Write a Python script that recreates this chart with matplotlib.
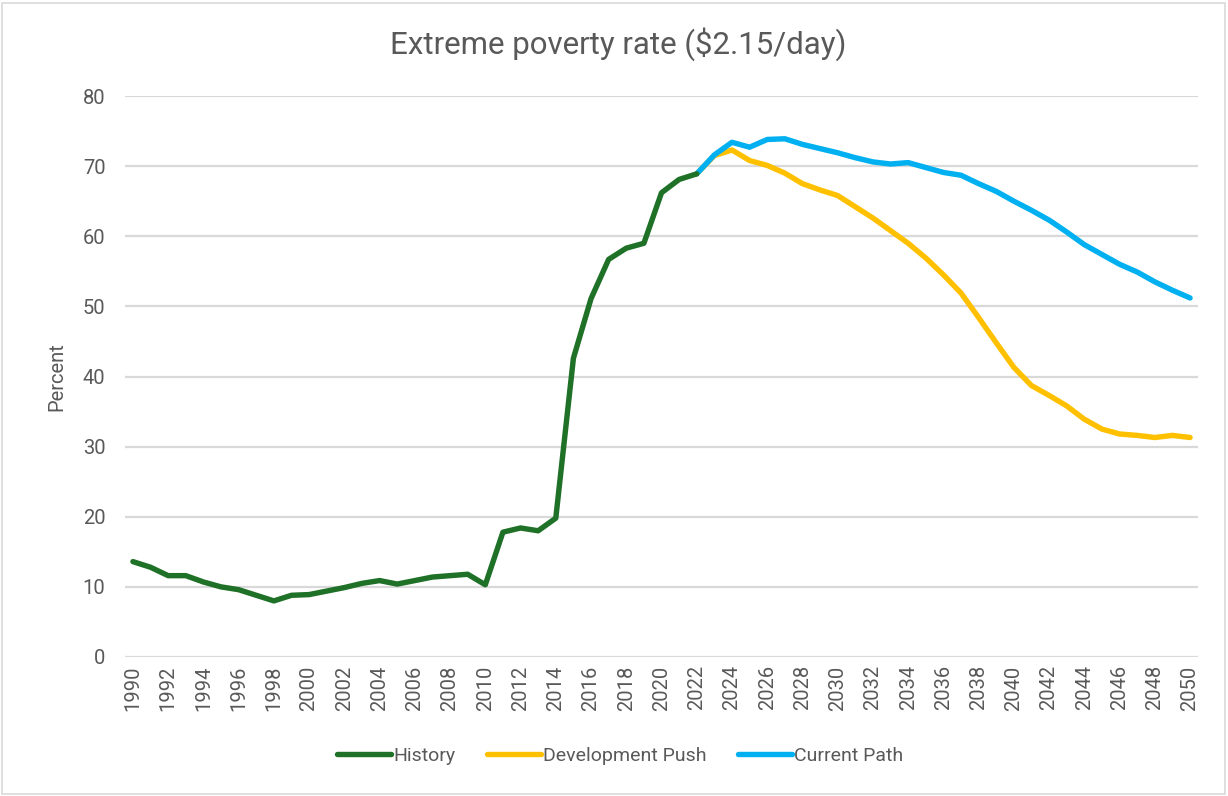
import matplotlib
matplotlib.use("Agg")
import matplotlib.pyplot as plt
from matplotlib.patches import Rectangle

plt.rcParams['font.family'] = ['Roboto', 'DejaVu Sans']

hist_years = list(range(1990, 2023))
history = [13.6, 12.8, 11.6, 11.6, 10.7, 10.0, 9.6, 8.8, 8.0, 8.8, 8.9,
           9.4, 9.9, 10.5, 10.9, 10.4, 10.9, 11.4, 11.6, 11.8, 10.3,
           17.8, 18.4, 18.0, 19.8, 42.6, 51.1, 56.7, 58.3, 59.0, 66.2,
           68.1, 68.9]

proj_years = list(range(2022, 2051))
dev_push = [68.9, 71.5, 72.3, 70.8, 70.1, 69.0, 67.5, 66.6, 65.8, 64.2,
            62.6, 60.8, 59.0, 56.9, 54.5, 51.9, 48.4, 44.8, 41.3, 38.7,
            37.3, 35.8, 33.9, 32.5, 31.8, 31.6, 31.3, 31.6, 31.3]
current_path = [68.9, 71.6, 73.4, 72.7, 73.8, 73.9, 73.1, 72.5, 71.9, 71.2,
                70.6, 70.3, 70.5, 69.8, 69.1, 68.7, 67.5, 66.4, 65.0, 63.7,
                62.3, 60.6, 58.8, 57.4, 56.0, 54.9, 53.5, 52.3, 51.2]

xtick_years = list(range(1990, 2051, 2))
yticks = [0, 10, 20, 30, 40, 50, 60, 70, 80]

W, H = 1228, 796
fig = plt.figure(figsize=(W / 100, H / 100), dpi=100)
ax = fig.add_axes([125 / W, 1 - 657 / H, (1198 - 125) / W, (657 - 96) / H])

text_color = '#595959'
ax.plot(hist_years, history, color='#1E7126', lw=3.9, label='History',
        solid_capstyle='round', solid_joinstyle='round', zorder=3)
ax.plot(proj_years, dev_push, color='#FFC000', lw=3.9, label='Development Push',
        solid_capstyle='round', solid_joinstyle='round', zorder=2)
ax.plot(proj_years, current_path, color='#00B0F0', lw=3.9, label='Current Path',
        solid_capstyle='round', solid_joinstyle='round', zorder=2.5)

ax.set_xlim(1989.55, 2050.45)
ax.set_ylim(0, 80)
ax.set_yticks(yticks)
ax.set_xticks(xtick_years)
ax.set_xticklabels([str(y) for y in xtick_years], rotation=90)
ax.tick_params(axis='both', length=0, colors=text_color, labelsize=14.5)
ax.tick_params(axis='y', pad=14)
ax.tick_params(axis='x', pad=6)
ax.grid(axis='y', color='#D9D9D9', lw=1.6)
ax.set_axisbelow(True)
for s in ax.spines.values():
    s.set_visible(False)

ax.set_ylabel('Percent', color=text_color, fontsize=14.5, labelpad=12)
fig.text(618 / W, 1 - 44 / H, 'Extreme poverty rate ($2.15/day)', ha='center',
         va='center', fontsize=22.5, color=text_color)

leg = fig.legend(loc='center', bbox_to_anchor=(620 / W, 1 - 756 / H), ncol=3,
                 frameon=False, fontsize=14, handlelength=2.8,
                 handletextpad=0.1, columnspacing=1.6)
for t in leg.get_texts():
    t.set_color(text_color)

fig.patches.append(Rectangle((2 / W, 2 / H), (W - 5) / W, (H - 5) / H,
                             transform=fig.transFigure, fill=False,
                             edgecolor='#D9D9D9', lw=1.2))

fig.savefig('out.png', dpi=100, facecolor='white')
